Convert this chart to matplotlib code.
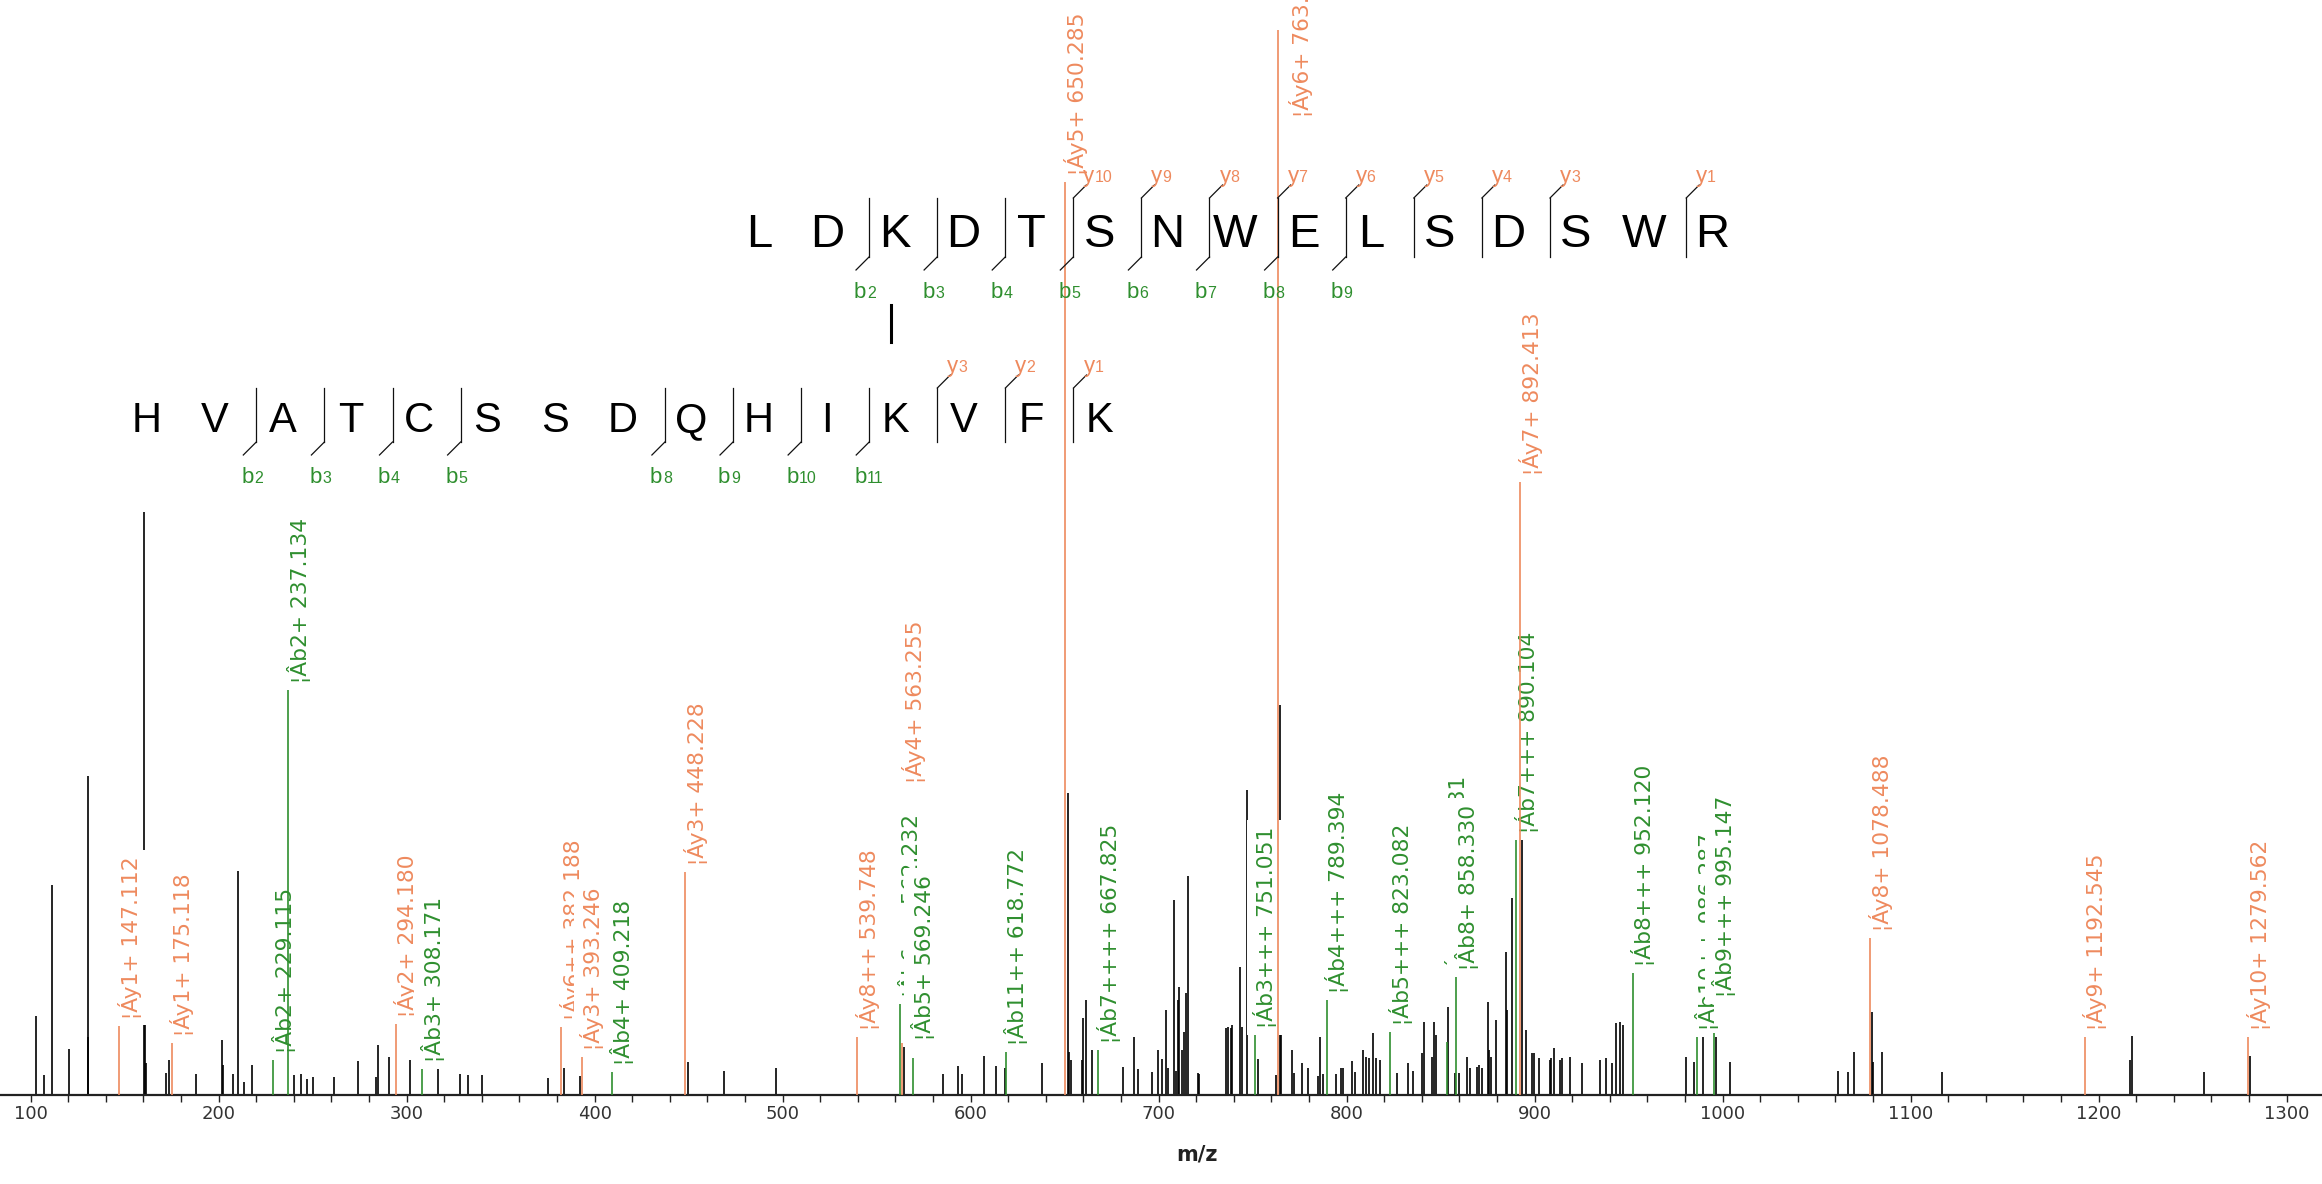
import numpy as np
import matplotlib
matplotlib.use("Agg")
import matplotlib.pyplot as plt
from matplotlib.lines import Line2D

# ------------------------------------------------------------------ data
noise_mz = [102.9, 107.0, 111.2, 120.6, 130.3, 130.7, 160.3, 160.8, 161.3, 171.9, 173.8, 187.8,
            201.6, 202.2, 207.8, 210.1, 213.5, 217.6, 239.9, 244.0, 247.0, 250.4, 261.4, 274.0,
            283.7, 284.6, 290.8, 301.8, 316.5, 328.4, 332.4, 339.9, 375.3, 383.5, 392.0, 449.4,
            469.0, 496.3, 564.3, 585.3, 593.3, 595.4, 607.0, 613.3, 618.3, 638.0, 651.6, 652.4,
            653.6, 659.1, 660.0, 661.2, 664.7, 681.2, 687.1, 688.8, 696.3, 699.5, 701.6, 704.0,
            705.0, 708.2, 709.2, 710.2, 711.0, 712.5, 713.5, 714.4, 715.8, 720.8, 721.7, 735.7,
            736.8, 738.4, 739.2, 743.3, 744.3, 747.2, 752.8, 762.4, 764.6, 765.1, 771.1, 772.2,
            776.4, 779.6, 784.9, 785.8, 787.5, 794.2, 797.2, 798.1, 802.7, 804.4, 808.9, 810.1,
            811.9, 814.2, 815.5, 817.8, 826.6, 832.8, 835.1, 840.0, 841.2, 845.3, 846.4, 847.4,
            853.8, 857.6, 859.5, 864.2, 865.6, 869.5, 870.6, 871.8, 875.4, 875.9, 876.8, 879.5,
            884.8, 885.5, 888.0, 893.3, 895.4, 898.4, 899.6, 902.5, 907.9, 908.7, 910.3, 913.5,
            914.7, 918.8, 925.4, 934.8, 938.0, 941.0, 943.3, 945.4, 947.2, 980.5, 984.8, 989.7,
            996.3, 1003.9, 1061.2, 1066.5, 1069.9, 1079.3, 1080.0, 1084.6, 1116.5, 1216.7, 1217.6,
            1256.0, 1280.5]
noise_int = [7.4, 1.9, 19.7, 4.3, 5.4, 30.0, 54.7, 7.0, 3.0, 2.1, 3.3, 2.0,
             5.2, 2.8, 2.0, 21.0, 1.2, 2.8, 1.9, 2.0, 1.5, 1.7, 1.7, 3.2,
             1.7, 4.7, 3.6, 3.3, 3.2, 2.0, 1.9, 1.9, 1.6, 2.5, 1.8, 3.1,
             2.3, 2.5, 4.5, 2.0, 2.7, 2.0, 3.7, 2.7, 2.5, 3.0, 28.4, 4.0,
             3.3, 3.3, 7.2, 8.9, 5.4, 2.6, 5.4, 2.4, 2.2, 4.2, 3.4, 8.0,
             2.5, 18.3, 2.3, 8.9, 10.1, 4.2, 5.9, 9.6, 20.6, 2.1, 2.0, 6.3,
             6.4, 6.3, 6.6, 12.0, 6.4, 28.6, 3.4, 1.9, 36.6, 6.8, 4.2, 2.1,
             3.0, 2.5, 1.8, 5.4, 2.0, 2.0, 2.5, 2.5, 3.2, 2.2, 4.2, 3.6,
             3.5, 5.8, 3.5, 3.3, 2.1, 3.0, 2.3, 3.9, 6.9, 3.6, 6.9, 5.6,
             8.3, 2.1, 2.1, 3.6, 2.5, 2.6, 2.8, 2.5, 8.7, 4.2, 3.6, 7.0,
             13.4, 8.0, 18.5, 24.1, 6.1, 3.9, 3.9, 3.5, 3.3, 3.5, 4.4, 3.3,
             3.5, 3.6, 3.0, 3.3, 3.5, 3.0, 6.8, 6.9, 6.6, 3.6, 3.1, 5.8,
             5.4, 3.1, 2.3, 2.2, 4.0, 7.8, 3.1, 4.0, 2.2, 3.3, 5.5,
             2.2, 3.7]

y_ion_mz = [147.112, 175.118, 294.180, 382.188, 393.246, 448.228, 539.748, 563.255,
            650.285, 763.369, 892.413, 1078.488, 1192.545, 1279.562]
y_ion_int = [6.5, 4.9, 6.7, 6.4, 3.6, 20.9, 5.4, 4.9, 85.7, 100.0, 57.6, 14.7, 5.4, 5.4]
y_ion_names = ["¦Áy1+", "¦Áy1+", "¦Áy2+", "¦Áy6++", "¦Áy3+", "¦Áy3+", "¦Áy8++", "¦Áy4+",
               "¦Áy5+", "¦Áy6+", "¦Áy7+", "¦Áy8+", "¦Áy9+", "¦Áy10+"]

b_ion_mz = [229.115, 237.134, 308.171, 409.218, 562.232, 569.246, 618.772, 667.825, 751.051,
            789.394, 823.082, 853.281, 858.330, 890.104, 952.120, 986.287, 995.147]
b_ion_int = [3.3, 38.0, 2.4, 2.2, 8.5, 3.5, 4.0, 4.2, 5.6, 8.9, 5.9, 5.0, 11.1, 23.9, 11.5, 5.4, 5.8]
b_ion_names = ["¦Âb2+", "¦Âb2+", "¦Âb3+", "¦Âb4+", "¦Âb6++", "¦Âb5+", "¦Âb11++", "¦Áb7++++",
               "¦Áb3+++", "¦Áb4+++", "¦Áb5+++", "¦Áb6+++", "¦Âb8+", "¦Áb7+++", "¦Áb8+++",
               "¦Âb10++", "¦Âb9+++"]

alpha_seq = "LDKDTSNWELSDSWR"
alpha_b = [2, 3, 4, 5, 6, 7, 8, 9]
alpha_y = [10, 9, 8, 7, 6, 5, 4, 3, 1]
beta_seq = "HVATCSSDQHIKVFK"
beta_b = [2, 3, 4, 5, 8, 9, 10, 11]
beta_y = [3, 2, 1]

x_ticks = list(range(100, 1301, 20))
x_ticklabels = [str(v) if v % 100 == 0 else "" for v in x_ticks]

# ------------------------------------------------------------------ style
W, H, DPI = 2322, 1184, 100
ORANGE = "#EE8A5E"
GREEN = "#2F8F2F"
BASE_Y = 1095          # baseline pixel row
FULL_PX = 1065         # pixel height of a 100 % peak

plt.rcParams["font.family"] = ["DejaVu Sans"]
fig = plt.figure(figsize=(W / DPI, H / DPI), dpi=DPI)
ax = fig.add_axes([0, (H - BASE_Y) / H, 1, BASE_Y / H])
ax.set_xlim(83.7, 1318.8)
ax.set_ylim(0, BASE_Y / FULL_PX * 100)

for s in ("top", "left", "right"):
    ax.spines[s].set_visible(False)
ax.spines["bottom"].set_linewidth(1.6)
ax.spines["bottom"].set_color("#222222")
ax.set_yticks([])
ax.set_xticks(x_ticks)
ax.set_xticklabels(x_ticklabels)
ax.tick_params(axis="x", direction="out", length=5, width=1.0, pad=2,
               labelsize=13, colors="#222222", labelcolor="#333333")

# unassigned peaks
ax.vlines(noise_mz, 0, noise_int, colors="black", lw=1.2, zorder=2)
# assigned peaks
ax.vlines(y_ion_mz, 0, y_ion_int, colors=ORANGE, lw=1.2, zorder=4)
ax.vlines(b_ion_mz, 0, b_ion_int, colors=GREEN, lw=1.2, zorder=4)

# peak labels (pixel offsets from the peak top)
px2pt = 72.0 / DPI
label_shift = {763.369: (23, -87), 563.255: (12.5, 260), 853.281: (10, 65),
               995.147: (10, 36), 569.246: (10, 18)}
peaks = [(m, i, n, ORANGE) for m, i, n in zip(y_ion_mz, y_ion_int, y_ion_names)] + \
        [(m, i, n, GREEN) for m, i, n in zip(b_ion_mz, b_ion_int, b_ion_names)]
peaks.sort(key=lambda p: p[0])
for m, i, n, c in peaks:
    dx, dy = label_shift.get(m, (10.5, 7))
    ax.annotate(f"{n} {m:.3f}", xy=(m, i), xytext=(dx * px2pt, dy * px2pt),
                textcoords="offset points", rotation=90, ha="center", va="bottom",
                fontsize=15.7, color=c, annotation_clip=False, zorder=3,
                bbox=dict(boxstyle="square,pad=0.3", fc="white", ec="none"))

# ------------------------------------------------------------------ sequences
def fx(x):
    return x / W

def fy(y):
    return 1 - y / H

def draw_seq(seq, b_sites, y_sites, x0, step, cap_top, baseline, fsize):
    n = len(seq)
    for k, aa in enumerate(seq):
        xc = x0 + (k + 0.5) * step - 8
        fig.text(fx(xc), fy(baseline), aa, ha="center", va="baseline",
                 fontsize=fsize, family="Liberation Sans", color="black")
    y_top = cap_top - 15
    y_bot = baseline + 10
    y_at = {n - j: j for j in y_sites}
    for k in range(1, n):
        has_b = k in b_sites
        has_y = k in y_at
        if not (has_b or has_y):
            continue
        xv = x0 + k * step
        fig.add_artist(Line2D([fx(xv), fx(xv)], [fy(y_top), fy(y_bot)],
                              transform=fig.transFigure, color="#111111", lw=0.9))
        if has_b:
            fig.add_artist(Line2D([fx(xv), fx(xv - 13)], [fy(y_bot), fy(y_bot + 13)],
                                  transform=fig.transFigure, color="#111111", lw=0.9))
            fig.text(fx(xv - 15), fy(y_bot + 41), "b", ha="left", va="baseline",
                     fontsize=16, family="Liberation Sans", color=GREEN)
            fig.text(fx(xv - 2), fy(y_bot + 41), str(k), ha="left", va="baseline",
                     fontsize=11.5, family="Liberation Sans", color=GREEN)
        if has_y:
            fig.add_artist(Line2D([fx(xv), fx(xv + 13)], [fy(y_top), fy(y_top - 13)],
                                  transform=fig.transFigure, color="#111111", lw=0.9))
            fig.text(fx(xv + 10), fy(y_top - 16), "y", ha="left", va="baseline",
                     fontsize=16, family="Liberation Sans", color=ORANGE)
            fig.text(fx(xv + 21), fy(y_top - 16), str(y_at[k]), ha="left", va="baseline",
                     fontsize=11.5, family="Liberation Sans", color=ORANGE)

draw_seq(alpha_seq, alpha_b, alpha_y, 732.8, 68.1, 213, 247, 34)
draw_seq(beta_seq, beta_b, beta_y, 120.1, 68.1, 403, 432, 30)

# cross-link marker
fig.add_artist(Line2D([fx(891), fx(891)], [fy(305), fy(342)],
                      transform=fig.transFigure, color="black", lw=2.2))

fig.text(fx(1197), fy(1154), "m/z", ha="center", va="center",
         fontsize=15, fontweight="bold", color="#222222")

fig.savefig("out.png", dpi=DPI)
